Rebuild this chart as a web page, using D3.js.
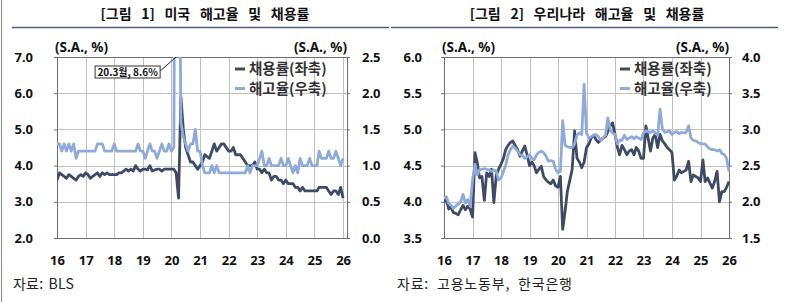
<!DOCTYPE html>
<html>
<head>
<meta charset="utf-8">
<script src="https://cdn.jsdelivr.net/npm/d3@7"></script>
<style>
  body { margin: 0; background: #fff; }
  svg { display: block; font-family: "Noto Sans CJK KR", "Noto Sans", sans-serif; }
  .title { font-size: 14px; font-weight: bold; word-spacing: 6.5px; fill: #111; }
  .tick text { font-size: 13px; font-weight: bold; fill: #111; font-family: "Noto Sans", sans-serif; }
  .unit { font-size: 13.5px; font-weight: bold; fill: #111; font-family: "Noto Sans", sans-serif; }
  .legend { font-size: 14.5px; font-weight: bold; fill: #333; }
  .source { font-size: 14px; fill: #222; }
  .note { font-size: 10px; font-weight: bold; fill: #111; }
</style>
</head>
<body>
<svg id="chart" width="790" height="302"></svg>
<script>
// monthly, Jan 2016 .. Jan 2026
const usHires = [
  3.6, 3.8, 3.75, 3.7, 3.65, 3.75, 3.7, 3.65, 3.6, 3.7, 3.75, 3.7,
  3.8, 3.75, 3.65, 3.7, 3.75, 3.8, 3.7, 3.8, 3.75, 3.8, 3.75, 3.75,
  3.75, 3.75, 3.8, 3.8, 3.85, 3.9, 3.85, 3.9, 3.85, 4.0, 3.9, 3.85,
  3.9, 3.9, 3.88, 4.0, 3.85, 3.88, 3.9, 3.9, 3.85, 3.9, 3.9, 3.9,
  3.9, 3.9, 3.8, 3.1, 5.9, 5.0, 4.5, 4.3, 4.1, 4.1, 4.0, 3.9,
  4.0, 4.1, 4.3, 4.25, 4.2, 4.4, 4.6, 4.4, 4.5, 4.6, 4.6, 4.5,
  4.4, 4.4, 4.5, 4.3, 4.3, 4.3, 4.2, 4.1, 4.0, 4.0, 4.0, 4.1,
  3.9, 3.9, 3.8, 3.9, 3.8, 3.8, 3.6, 3.7, 3.7, 3.6, 3.6, 3.5,
  3.6, 3.5, 3.5, 3.5, 3.4, 3.4, 3.3, 3.4, 3.3, 3.3, 3.3, 3.3,
  3.3, 3.3, 3.4, 3.4, 3.4, 3.4, 3.3, 3.2, 3.3, 3.3, 3.2, 3.4,
  3.1
];
const usLayoffs = [
  1.3, 1.3, 1.2, 1.3, 1.2, 1.3, 1.2, 1.3, 1.1, 1.2, 1.2, 1.2,
  1.2, 1.2, 1.2, 1.2, 1.2, 1.3, 1.3, 1.3, 1.2, 1.2, 1.2, 1.2,
  1.3, 1.2, 1.2, 1.2, 1.2, 1.2, 1.2, 1.2, 1.2, 1.2, 1.3, 1.2,
  1.2, 1.1, 1.2, 1.3, 1.2, 1.2, 1.1, 1.2, 1.3, 1.2, 1.2, 1.3,
  1.2, 1.25, 8.6, 5.9, 1.6, 1.4, 1.3, 1.2, 1.3, 1.3, 1.5, 1.2,
  1.2, 1.0, 0.9, 0.9, 0.9, 1.0, 0.9, 1.0, 0.9, 0.9, 0.9, 0.9,
  0.9, 0.9, 0.9, 0.9, 0.9, 0.9, 0.9, 0.9, 1.0, 0.9, 1.0, 1.0,
  1.0, 1.1, 1.2, 1.0, 1.0, 1.1, 1.0, 1.0, 1.0, 1.0, 1.1, 1.0,
  1.0, 1.1, 1.0, 0.9, 1.0, 0.9, 1.1, 1.0, 1.0, 1.0, 1.1, 1.0,
  1.0, 1.0, 1.2, 1.1, 1.1, 1.1, 1.2, 1.1, 1.1, 1.2, 1.1, 1.0,
  1.1
];
const krHires = [
  4.0, 4.03, 3.9, 3.93, 3.85, 3.84, 3.82, 3.89, 3.95, 3.89, 3.94, 3.9,
  3.79, 4.68, 4.55, 4.33, 4.35, 4.02, 4.4, 4.35, 4.45, 3.99, 4.37, 4.45,
  4.52, 4.6, 4.72, 4.78, 4.82, 4.84, 4.78, 4.72, 4.63, 4.7, 4.77, 4.65,
  4.5, 4.55, 4.5, 4.4, 4.45, 4.49, 4.35, 4.3, 4.27, 4.25, 4.3, 4.22,
  4.2, 4.35, 3.62, 3.87, 4.15, 4.3, 4.45, 4.98, 4.6, 4.55, 4.47, 4.55,
  4.75, 4.8, 4.88, 4.92, 4.86, 4.82, 4.85, 4.88, 4.9, 4.97, 5.05, 5.09,
  4.93, 4.75, 4.65, 4.78, 4.72, 4.65, 4.7, 4.72, 4.65, 4.75, 4.7, 4.6,
  4.6, 5.05, 4.88, 4.7, 4.88, 4.93, 4.75, 4.93, 4.84, 4.8, 4.75, 4.72,
  4.68, 4.3, 4.35, 4.44, 4.4, 4.42, 4.44, 4.56, 4.28, 4.37, 4.35, 4.33,
  4.28, 4.58, 4.28, 4.33, 4.26, 4.19, 4.28, 4.42, 4.0, 4.14, 4.14, 4.2,
  4.28
];
const krLayoffs = [
  2.05, 2.07, 1.98, 1.95, 1.91, 1.94, 1.97, 2.0, 2.1, 1.98, 2.03, 1.94,
  2.3, 2.52, 2.37, 2.44, 2.45, 2.46, 2.45, 2.44, 2.42, 2.44, 2.42, 2.3,
  2.33, 2.42, 2.5, 2.65, 2.72, 2.77, 2.74, 2.7, 2.65, 2.64, 2.6, 2.62,
  2.65, 2.6, 2.58, 2.65, 2.68, 2.7, 2.68, 2.63, 2.56, 2.57, 2.56, 2.45,
  2.4, 2.42, 3.12, 2.78, 2.76, 2.75, 2.75, 2.8, 2.92, 2.95, 2.93, 3.62,
  2.95, 2.88, 2.9, 2.92, 2.93, 2.9, 2.85, 2.88, 2.92, 3.16, 3.0, 2.95,
  2.93, 2.8, 2.85, 2.85, 2.92, 2.86, 2.88, 2.9, 2.87, 2.9, 2.88, 2.86,
  2.95, 2.98, 2.97, 2.96, 2.98, 2.95, 2.92, 3.28, 3.0, 2.96, 2.97, 2.98,
  2.93, 2.96, 2.97, 2.94, 2.96, 2.95, 2.96, 3.05, 2.88, 2.85, 2.84, 2.82,
  2.8, 2.8, 2.8, 2.76, 2.73, 2.72, 2.72, 2.7, 2.72, 2.67, 2.65, 2.6,
  2.42
];

const usLeftTicks = [2, 3, 4, 5, 6, 7];
const usRightTicks = [0, 0.5, 1, 1.5, 2, 2.5];
const krLeftTicks = [3.5, 4, 4.5, 5, 5.5, 6];
const krRightTicks = [1.5, 2, 2.5, 3, 3.5, 4];
const seriesNames = ['채용률(좌축)', '해고율(우축)'];

const months = d3.timeMonth.range(new Date(2016, 0, 1), new Date(2026, 1, 1));
const years = d3.range(2016, 2027).map(y => new Date(y, 0, 1));

const darkColor = '#3f4b66';
const lightColor = '#8eaadb';
const svg = d3.select('#chart');

// thin rule on the far left edge
svg.append('line')
  .attr('x1', 1.5).attr('x2', 1.5).attr('y1', 0).attr('y2', 302)
  .attr('stroke', '#8a8a8a');

const drawPanel = (p) => {
  const g = svg.append('g');

  const x = d3.scaleTime().domain([months[0], p.xEnd]).range([p.left, p.right]);
  const yL = d3.scaleLinear().domain(d3.extent(p.leftTicks)).range([p.bottom, p.top]);
  const yR = d3.scaleLinear().domain(d3.extent(p.rightTicks)).range([p.bottom, p.top]);

  // title + rule
  g.append('text')
    .attr('class', 'title')
    .attr('x', p.titleX).attr('y', 19)
    .attr('text-anchor', 'middle')
    .text(p.title);
  g.append('line')
    .attr('x1', p.ruleX[0]).attr('x2', p.ruleX[1])
    .attr('y1', 27.5).attr('y2', 27.5)
    .attr('stroke', '#4d5f80').attr('stroke-width', 1.5);

  // grid
  g.append('g').selectAll('line')
    .data(p.leftTicks)
    .join('line')
    .attr('x1', p.left).attr('x2', p.right)
    .attr('y1', d => Math.round(yL(d)) + 0.5).attr('y2', d => Math.round(yL(d)) + 0.5)
    .attr('stroke', '#c2c2c2');
  g.append('g').selectAll('line')
    .data(years.filter(d => d > months[0] && d <= p.xEnd))
    .join('line')
    .attr('x1', d => Math.round(x(d)) + 0.5).attr('x2', d => Math.round(x(d)) + 0.5)
    .attr('y1', p.top).attr('y2', p.bottom)
    .attr('stroke', '#c2c2c2');

  g.append('rect')
    .attr('x', p.left + 0.5).attr('y', p.top + 0.5)
    .attr('width', p.right - p.left).attr('height', p.bottom - p.top)
    .attr('fill', 'none').attr('stroke', '#6e6e6e');

  // lines
  g.append('clipPath').attr('id', p.id + '-clip')
    .append('rect')
    .attr('x', p.left).attr('y', p.top)
    .attr('width', p.right - p.left + 1).attr('height', p.bottom - p.top);

  const lineL = d3.line().x((d, i) => x(months[i])).y(d => yL(d));
  const lineR = d3.line().x((d, i) => x(months[i])).y(d => yR(d));

  const lines = g.append('g').attr('clip-path', `url(#${p.id}-clip)`);
  lines.append('path')
    .datum(p.hires)
    .attr('d', lineL)
    .attr('fill', 'none').attr('stroke', darkColor)
    .attr('stroke-width', 2.8).attr('stroke-linejoin', 'round');
  lines.append('path')
    .datum(p.layoffs)
    .attr('d', lineR)
    .attr('fill', 'none').attr('stroke', lightColor)
    .attr('stroke-width', 2.8).attr('stroke-linejoin', 'round');

  // axes
  const xAxisG = g.append('g')
    .attr('transform', `translate(0,${p.bottom})`)
    .call(d3.axisBottom(x).tickValues(years).tickSize(0).tickPadding(18)
      .tickFormat(d3.timeFormat('%y')));
  xAxisG.select('.domain').remove();

  const leftAxisG = g.append('g')
    .attr('transform', `translate(${p.left},0)`)
    .call(d3.axisLeft(yL).tickValues(p.leftTicks).tickSize(3).tickPadding(p.padL)
      .tickFormat(d3.format('.1f')));
  leftAxisG.select('.domain').remove();
  leftAxisG.selectAll('.tick line').attr('stroke', '#6e6e6e');

  const rightAxisG = g.append('g')
    .attr('transform', `translate(${p.right},0)`)
    .call(d3.axisRight(yR).tickValues(p.rightTicks).tickSize(3).tickPadding(p.padR)
      .tickFormat(d3.format('.1f')));
  rightAxisG.select('.domain').remove();
  rightAxisG.selectAll('.tick line').attr('stroke', '#6e6e6e');

  // unit labels
  g.append('text').attr('class', 'unit')
    .attr('x', p.left - 2).attr('y', 52).text('(S.A., %)');
  g.append('text').attr('class', 'unit')
    .attr('x', p.right).attr('y', 52).attr('text-anchor', 'end').text('(S.A., %)');

  // legend
  const legend = g.append('g')
    .attr('transform', `translate(${p.legendX},69)`);
  const items = legend.selectAll('g')
    .data([darkColor, lightColor])
    .join('g')
    .attr('transform', (d, i) => `translate(0,${i * 19.5})`);
  items.append('line')
    .attr('x1', 0).attr('x2', 10)
    .attr('stroke', d => d).attr('stroke-width', 3);
  items.append('text')
    .attr('class', 'legend')
    .attr('x', 14).attr('y', 5)
    .text((d, i) => seriesNames[i]);

  // source
  g.append('text').attr('class', 'source')
    .attr('x', p.sourceX).attr('y', 289)
    .attr('letter-spacing', p.sourceLS).attr('word-spacing', p.sourceWS)
    .text(p.source);

  return { x, yL, yR, g };
};

const us = drawPanel({
  id: 'us',
  left: 57, right: 347, top: 57, bottom: 238,
  xEnd: new Date(2026, 1, 20),
  leftTicks: usLeftTicks, rightTicks: usRightTicks,
  hires: usHires, layoffs: usLayoffs,
  title: '[그림 1] 미국 해고율 및 채용률', titleX: 205, ruleX: [12, 389],
  padL: 21, padR: 12,
  legendX: 235,
  source: '자료: BLS', sourceX: 13, sourceLS: 0.2, sourceWS: 2
});

drawPanel({
  id: 'kr',
  left: 444, right: 729, top: 57, bottom: 238,
  xEnd: new Date(2026, 0, 1),
  leftTicks: krLeftTicks, rightTicks: krRightTicks,
  hires: krHires, layoffs: krLayoffs,
  title: '[그림 2] 우리나라 해고율 및 채용률', titleX: 587, ruleX: [391, 778],
  padL: 19, padR: 10,
  legendX: 620,
  source: '자료: 고용노동부, 한국은행', sourceX: 397, sourceLS: 0.8, sourceWS: 4
});

// callout for the clipped March 2020 layoff spike
const peakIdx = usLayoffs.indexOf(d3.max(usLayoffs));
const peakX = us.x(months[peakIdx]);
const note = us.g.append('g');
note.append('line')
  .attr('x1', peakX - 16).attr('y1', 71)
  .attr('x2', peakX).attr('y2', 57)
  .attr('stroke', '#222').attr('stroke-width', 1);
note.append('rect')
  .attr('x', peakX - 81).attr('y', 66)
  .attr('width', 65).attr('height', 12)
  .attr('fill', '#fff').attr('stroke', '#333');
note.append('text')
  .attr('class', 'note')
  .attr('x', peakX - 48.5).attr('y', 75.5)
  .attr('text-anchor', 'middle')
  .text(`20.3월, ${usLayoffs[peakIdx]}%`);
</script>
</body>
</html>
